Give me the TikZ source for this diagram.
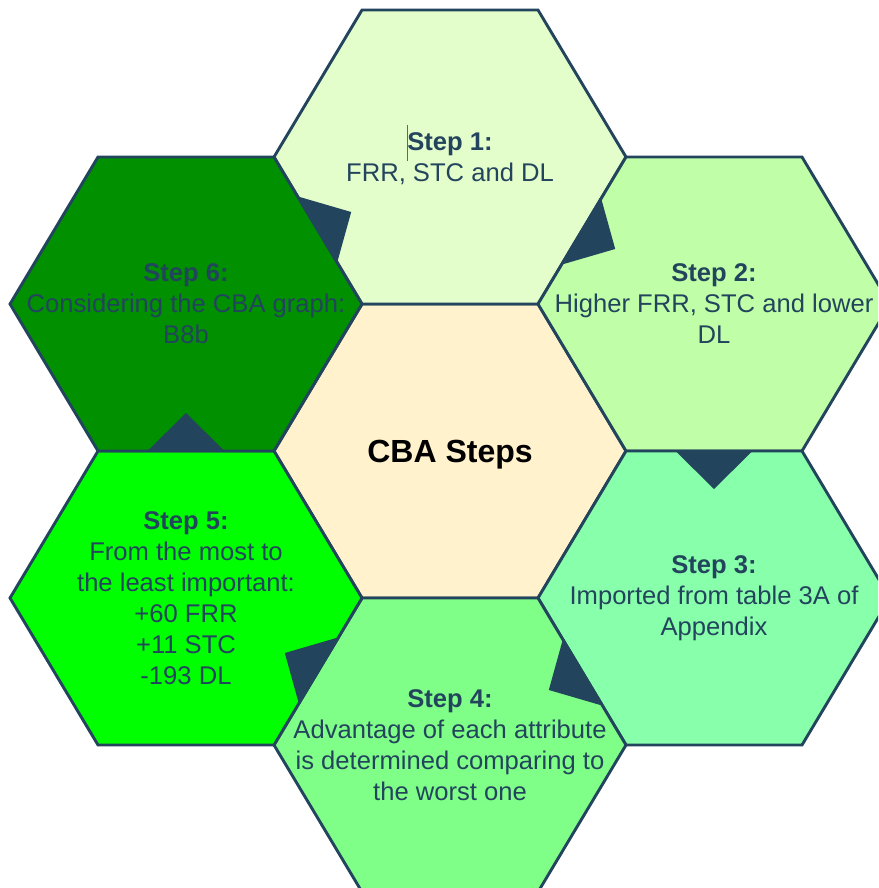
\documentclass[tikz,border=0pt]{standalone}
\usepackage{fontspec}
\setmainfont{Liberation Sans}
\usetikzlibrary{calc}

\definecolor{edgeblue}{HTML}{23445D}
\definecolor{hubfill}{HTML}{FFF2CC}
\definecolor{fillone}{HTML}{E3FDCB}
\definecolor{filltwo}{HTML}{C0FFA8}
\definecolor{fillthree}{HTML}{88FFAA}
\definecolor{fillfour}{HTML}{80FF88}
\definecolor{fillfive}{HTML}{00FF00}
\definecolor{fillsix}{HTML}{009000}

% flat-topped hexagon around a named centre
\newcommand\hexagonat[2]{%
  \draw[hexline, fill=#2] ($(#1)+(-176,0)$) -- ++(88,-147) -- ++(176,0)
    -- ++(88,147) -- ++(-88,147) -- ++(-176,0) -- cycle;}

% triangular pointer on the shared edge, pointing from #1 into #2
\newcommand\pointer[2]{%
  \coordinate (mid) at ($(#1)!0.5!(#2)$);
  \fill[notch] ($(mid)!38.5pt!90:(#2)$) -- ($(mid)!38pt!(#2)$)
    -- ($(mid)!38.5pt!-90:(#2)$) -- cycle;}

\begin{document}
\begin{tikzpicture}[x=1pt,y=-1pt,
  hexline/.style={draw=edgeblue, line width=2.9pt, line join=miter},
  notch/.style={fill=edgeblue, draw=none},
  steptext/.style={text=edgeblue, align=center, inner sep=0pt,
    font=\fontsize{25.6}{31}\selectfont},
  hubtext/.style={text=black, align=center, inner sep=0pt,
    font=\bfseries\fontsize{32}{38}\selectfont}]
\useasboundingbox (0,0) rectangle (878,888);
\clip (0,0) rectangle (878,888);

% hexagon centres
\coordinate (c0) at (450,451);
\coordinate (c1) at (450,157);
\coordinate (c2) at (714,304);
\coordinate (c3) at (714,598);
\coordinate (c4) at (450,745);
\coordinate (c5) at (186,598);
\coordinate (c6) at (186,304);

\hexagonat{c0}{hubfill}
\hexagonat{c1}{fillone}
\hexagonat{c2}{filltwo}
\hexagonat{c3}{fillthree}
\hexagonat{c4}{fillfour}
\hexagonat{c5}{fillfive}
\hexagonat{c6}{fillsix}

% pointers along the cycle of steps
\pointer{c1}{c2}
\pointer{c2}{c3}
\pointer{c3}{c4}
\pointer{c4}{c5}
\pointer{c5}{c6}
\pointer{c6}{c1}

% labels
\node[hubtext] (t0) at ($(c0)+(0,4)$) {CBA Steps};
\node[steptext] (t1) at ($(c1)+(0,2)$) {\textbf{Step 1:}\\FRR, STC and DL};
\node[steptext] (t2) at (c2) {\textbf{Step 2:}\\Higher FRR, STC and lower\\DL};
\node[steptext] (t3) at (c3) {\textbf{Step 3:}\\Imported from table 3A of\\Appendix};
\node[steptext] (t4) at (c4) {\textbf{Step 4:}\\Advantage of each attribute\\is determined comparing to\\the worst one};
\node[steptext] (t5) at (c5) {\textbf{Step 5:}\\From the most to\\the least important:\\+60 FRR\\+11 STC\\-193 DL};
\node[steptext] (t6) at (c6) {\textbf{Step 6:}\\Considering the CBA graph:\\B8b};

% text cursor in front of the first label
\draw[gray!80!black, line width=1pt] (407,125) -- (407,161);
\end{tikzpicture}
\end{document}
